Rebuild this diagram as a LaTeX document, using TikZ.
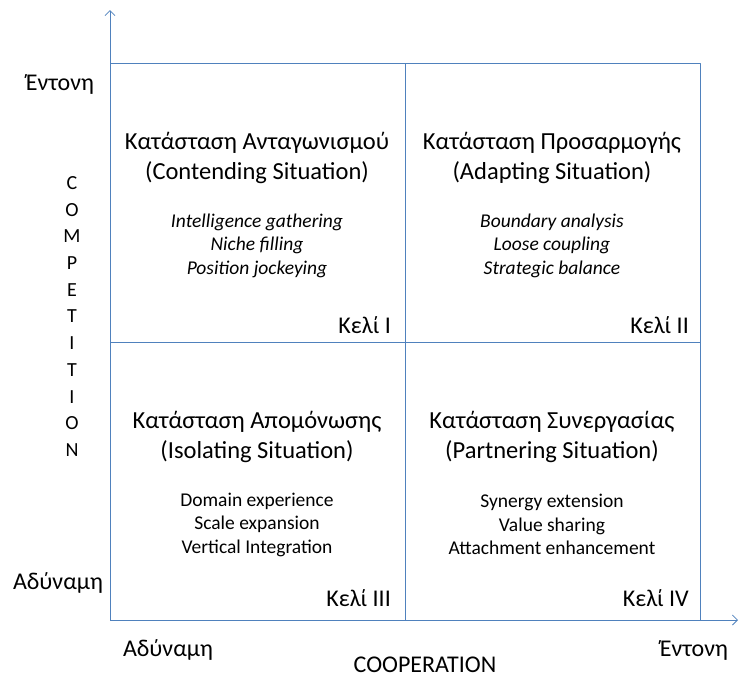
\documentclass[tikz,border=0pt]{standalone}
\usepackage{fontspec}
\setmainfont{Carlito}
\usetikzlibrary{arrows.meta}
\definecolor{axisblue}{RGB}{79,129,189}
\begin{document}
\begin{tikzpicture}[x=1pt,y=-1pt,line join=round,
		>={Straight Barb[length=5pt,width=10pt]},
		frame/.style={draw=axisblue,line width=0.8pt},
		title/.style={font=\fontsize{24.5}{30}\selectfont,align=center},
		items/.style={font=\fontsize{19.5}{23.5}\selectfont\itshape,align=center},
		plain/.style={font=\fontsize{19.5}{23.5}\selectfont,align=center},
		label/.style={font=\fontsize{24}{28}\selectfont,inner sep=1pt}
		]
		%	\draw[thin,gray!50,step=50] (0,0) grid (740,678);
		\useasboundingbox (0,0) rectangle (740,678);
		
		\coordinate (O) at (110,620);
		\coordinate (Ytop) at (110,10);
		\coordinate (Xend) at (738,620);
		\coordinate (TL) at (110,63);
		\coordinate (TR) at (700,63);
		\coordinate (BR) at (700,620);
		\coordinate (MT) at (405,63);
		\coordinate (MB) at (405,620);
		\coordinate (ML) at (110,342);
		\coordinate (MR) at (700,342);
		
		% axes
		\draw[frame,->] (O)--(Ytop);
		\draw[frame,->] (O)--(Xend);
		% cells
		\draw[frame] (TL)--(TR)--(BR);
		\draw[frame] (MT)--(MB);
		\draw[frame] (ML)--(MR);
		
		% cell I
		\node[title] (t1) at (257,158) {Κατάσταση Ανταγωνισμού\\(Contending Situation)};
		\node[items] (i1) at (257,245.5) {Intelligence gathering\\Niche filling\\Position jockeying};
		\node[label,anchor=east] (c1) at (392,325) {Κελί I};
		% cell II
		\node[title] (t2) at (552,158) {Κατάσταση Προσαρμογής\\(Adapting Situation)};
		\node[items] (i2) at (552,245.5) {Boundary analysis\\Loose coupling\\Strategic balance};
		\node[label,anchor=east] (c2) at (690,325) {Κελί II};
		% cell III
		\node[title] (t3) at (257,437) {Κατάσταση Απομόνωσης\\(Isolating Situation)};
		\node[plain] (i3) at (257,524.5) {Domain experience\\Scale expansion\\Vertical Integration};
		\node[label,anchor=east] (c3) at (392,598) {Κελί III};
		% cell IV
		\node[title] (t4) at (552,437) {Κατάσταση Συνεργασίας\\(Partnering Situation)};
		\node[plain] (i4) at (552,524.5) {Synergy extension\\Value sharing\\Attachment enhancement};
		\node[label,anchor=east] (c4) at (690,598) {Κελί IV};
		
		% axis labels
		\node[label] (yhi) at (60,84) {Έντονη};
		\node[label] (ylo) at (58,583) {Αδύναμη};
		\node[label] (xlo) at (168,650) {Αδύναμη};
		\node[label] (xhi) at (694,650) {Έντονη};
		\node[label] (xname) at (425,665) {COOPERATION};
		\foreach \ch [count=\i from 0] in {C,O,M,P,E,T,I,T,I,O,N}
			\node[font=\fontsize{20}{24}\selectfont] (y\i) at (72,183+26.7*\i) {\ch};
	\end{tikzpicture}
\end{document}
